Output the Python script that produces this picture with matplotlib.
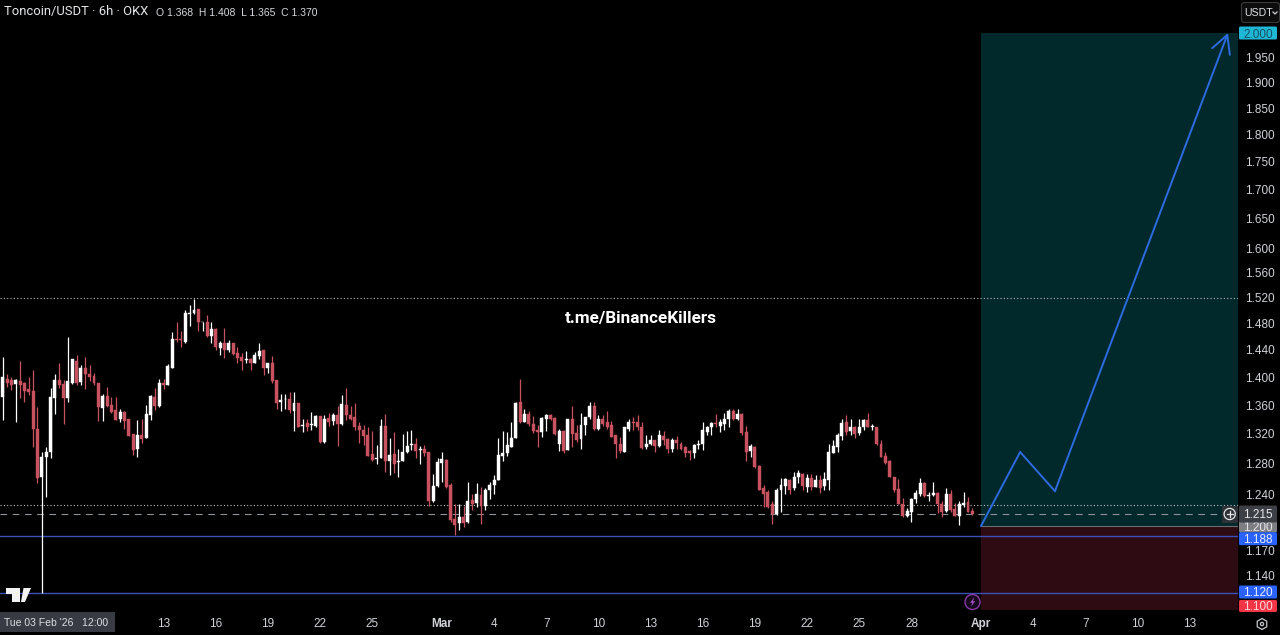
import matplotlib
matplotlib.use("Agg")
import matplotlib.pyplot as plt
from matplotlib.patches import Rectangle, Circle, Polygon, RegularPolygon, FancyBboxPatch
from matplotlib.lines import Line2D

plt.rcParams['font.family'] = ['Liberation Sans', 'DejaVu Sans']

highs = [
 1.430,1.405,1.400,1.397,1.424,1.393,1.400,1.411,1.357,1.295,
 1.302,1.384,1.405,1.420,1.396,1.459,1.426,1.433,1.418,1.430,
 1.418,1.406,1.392,1.376,1.386,1.372,1.371,1.355,1.352,1.341,
 1.320,1.339,1.341,1.360,1.374,1.385,1.397,1.397,1.419,1.467,
 1.483,1.468,1.501,1.509,1.518,1.502,1.483,1.493,1.483,1.473,
 1.454,1.473,1.455,1.451,1.444,1.436,1.438,1.428,1.437,1.450,
 1.440,1.421,1.431,1.396,1.376,1.376,1.379,1.379,1.363,1.341,
 1.341,1.350,1.346,1.345,1.346,1.349,1.349,1.359,1.374,1.384,
 1.359,1.363,1.337,1.332,1.330,1.324,1.305,1.341,1.347,1.314,
 1.323,1.300,1.320,1.324,1.325,1.314,1.303,1.305,1.296,1.267,
 1.288,1.295,1.286,1.254,1.227,1.227,1.225,1.256,1.240,1.254,
 1.249,1.248,1.256,1.265,1.315,1.324,1.323,1.337,1.365,1.398,
 1.355,1.352,1.345,1.332,1.344,1.347,1.347,1.343,1.327,1.325,
 1.341,1.359,1.332,1.349,1.344,1.365,1.365,1.346,1.346,1.352,
 1.338,1.318,1.316,1.330,1.341,1.343,1.346,1.337,1.318,1.318,
 1.312,1.325,1.324,1.314,1.314,1.317,1.309,1.303,1.298,1.307,
 1.312,1.336,1.331,1.337,1.347,1.341,1.349,1.354,1.355,1.355,
 1.349,1.331,1.307,1.303,1.278,1.252,1.245,1.231,1.248,1.261,
 1.261,1.260,1.269,1.272,1.268,1.267,1.266,1.265,1.265,1.269,
 1.307,1.312,1.321,1.341,1.346,1.341,1.331,1.340,1.341,1.349,
 1.334,1.330,1.312,1.296,1.285,1.263,1.260,1.235,1.222,1.235,
 1.246,1.261,1.256,1.243,1.256,1.243,1.231,1.248,1.246,1.229,
 1.231,1.243,1.237,1.223]

lows = [
 1.339,1.386,1.381,1.337,1.370,1.365,1.375,1.302,1.255,1.120,
 1.237,1.288,1.348,1.385,1.334,1.365,1.390,1.388,1.388,1.383,
 1.395,1.389,1.338,1.338,1.357,1.349,1.339,1.337,1.327,1.317,
 1.291,1.289,1.308,1.314,1.339,1.353,1.357,1.383,1.388,1.414,
 1.452,1.445,1.451,1.477,1.495,1.469,1.468,1.460,1.451,1.440,
 1.433,1.428,1.437,1.433,1.421,1.410,1.420,1.410,1.420,1.426,
 1.403,1.406,1.391,1.354,1.352,1.354,1.349,1.324,1.329,1.323,
 1.324,1.326,1.330,1.308,1.308,1.331,1.332,1.303,1.332,1.339,
 1.339,1.326,1.308,1.305,1.290,1.284,1.280,1.287,1.269,1.265,
 1.268,1.263,1.283,1.294,1.298,1.287,1.280,1.290,1.225,1.230,
 1.249,1.256,1.248,1.205,1.189,1.195,1.199,1.204,1.220,1.224,
 1.203,1.220,1.234,1.240,1.258,1.283,1.290,1.302,1.314,1.335,
 1.336,1.331,1.321,1.302,1.316,1.324,1.339,1.318,1.297,1.294,
 1.298,1.302,1.309,1.300,1.318,1.341,1.326,1.326,1.331,1.327,
 1.316,1.288,1.294,1.296,1.324,1.325,1.326,1.300,1.300,1.305,
 1.296,1.302,1.305,1.294,1.296,1.299,1.298,1.289,1.285,1.287,
 1.299,1.298,1.318,1.318,1.330,1.323,1.326,1.329,1.339,1.339,
 1.318,1.284,1.289,1.274,1.245,1.224,1.223,1.203,1.214,1.217,
 1.240,1.240,1.246,1.254,1.246,1.243,1.246,1.250,1.242,1.246,
 1.246,1.294,1.296,1.312,1.318,1.318,1.314,1.318,1.325,1.329,
 1.326,1.305,1.289,1.280,1.262,1.243,1.227,1.211,1.211,1.205,
 1.229,1.238,1.237,1.232,1.238,1.216,1.211,1.217,1.218,1.212,
 1.201,1.224,1.217,1.214]

body_tops = [
 1.400,1.398,1.396,1.396,1.394,1.391,1.383,1.380,1.327,1.289,
 1.295,1.371,1.396,1.396,1.390,1.394,1.426,1.424,1.413,1.413,
 1.405,1.402,1.392,1.373,1.373,1.360,1.353,1.350,1.351,1.340,
 1.320,1.318,1.318,1.347,1.373,1.372,1.392,1.391,1.416,1.457,
 1.457,1.457,1.497,1.497,1.501,1.502,1.483,1.483,1.472,1.472,
 1.450,1.450,1.450,1.451,1.435,1.430,1.426,1.427,1.433,1.438,
 1.440,1.421,1.421,1.396,1.367,1.369,1.369,1.363,1.363,1.332,
 1.335,1.334,1.345,1.345,1.341,1.342,1.346,1.346,1.362,1.360,
 1.346,1.343,1.331,1.326,1.318,1.293,1.288,1.331,1.331,1.291,
 1.293,1.283,1.295,1.303,1.306,1.306,1.300,1.299,1.295,1.251,
 1.282,1.286,1.285,1.252,1.209,1.211,1.211,1.231,1.233,1.240,
 1.239,1.246,1.252,1.259,1.291,1.294,1.305,1.315,1.363,1.364,
 1.348,1.347,1.334,1.325,1.342,1.346,1.346,1.342,1.324,1.324,
 1.341,1.341,1.321,1.332,1.344,1.359,1.359,1.340,1.341,1.337,
 1.332,1.318,1.307,1.329,1.337,1.337,1.337,1.329,1.307,1.312,
 1.312,1.318,1.317,1.313,1.312,1.312,1.307,1.302,1.297,1.305,
 1.307,1.325,1.330,1.335,1.335,1.337,1.341,1.352,1.352,1.347,
 1.347,1.323,1.303,1.302,1.277,1.248,1.243,1.227,1.246,1.252,
 1.260,1.259,1.262,1.268,1.267,1.261,1.261,1.258,1.258,1.260,
 1.296,1.303,1.319,1.335,1.337,1.330,1.330,1.330,1.339,1.339,
 1.331,1.330,1.307,1.290,1.284,1.263,1.247,1.228,1.219,1.234,
 1.242,1.254,1.254,1.239,1.242,1.242,1.227,1.240,1.240,1.221,
 1.227,1.229,1.230,1.219]

body_bottoms = [
 1.371,1.392,1.389,1.390,1.389,1.380,1.378,1.327,1.261,1.262,
 1.289,1.295,1.370,1.389,1.370,1.370,1.392,1.392,1.393,1.405,
 1.400,1.391,1.357,1.356,1.359,1.351,1.339,1.340,1.338,1.317,
 1.298,1.299,1.313,1.314,1.346,1.359,1.359,1.389,1.389,1.414,
 1.455,1.455,1.452,1.495,1.496,1.482,1.482,1.461,1.461,1.445,
 1.443,1.440,1.440,1.434,1.428,1.424,1.425,1.421,1.421,1.431,
 1.413,1.413,1.395,1.363,1.365,1.368,1.353,1.352,1.330,1.331,
 1.329,1.333,1.331,1.309,1.309,1.337,1.338,1.334,1.334,1.346,
 1.341,1.329,1.325,1.317,1.290,1.285,1.286,1.287,1.284,1.284,
 1.280,1.282,1.283,1.295,1.305,1.297,1.298,1.294,1.231,1.231,
 1.251,1.281,1.249,1.207,1.201,1.204,1.204,1.205,1.228,1.229,
 1.225,1.225,1.245,1.252,1.259,1.290,1.294,1.302,1.315,1.337,
 1.337,1.334,1.324,1.323,1.323,1.340,1.341,1.320,1.307,1.297,
 1.298,1.320,1.312,1.313,1.332,1.344,1.327,1.327,1.334,1.330,
 1.316,1.306,1.297,1.296,1.327,1.335,1.329,1.301,1.302,1.307,
 1.303,1.303,1.312,1.299,1.299,1.308,1.300,1.294,1.294,1.294,
 1.305,1.307,1.323,1.329,1.334,1.331,1.334,1.341,1.340,1.340,
 1.321,1.296,1.297,1.276,1.246,1.240,1.224,1.215,1.215,1.246,
 1.251,1.246,1.248,1.262,1.251,1.250,1.250,1.250,1.248,1.251,
 1.259,1.294,1.302,1.317,1.323,1.324,1.320,1.321,1.329,1.330,
 1.329,1.307,1.289,1.281,1.262,1.246,1.228,1.213,1.213,1.218,
 1.234,1.240,1.238,1.238,1.239,1.228,1.218,1.219,1.220,1.213,
 1.213,1.226,1.217,1.215]

# W = close above open (white), R = close below open (red)
directions = ("WRRWRRRRRW" "WWWRRWWRWR" "RRRWRRRWRR" "RWRWWRWRWW" "RRWWWRWRWR"
              "WRWRRRWRWW" "RWRRWWRWRW" "RWWRWRWRWR" "RRRRRRWWRW" "RWWWWRWRRW"
              "WWRRRWRWRW" "RWWWWWWWWR" "WRRRWWRRWR" "WRRWWWRWRR" "RRRWWRRRWW"
              "RWRRWRRRRW" "WWWWRWWWRW" "RRWRRRRRWW" "WRWWRWRWRW" "WWWWRWRWWR"
              "WRRRRRRRWW" "WWRWWRRWRR" "WWRR")

time_tick_bars = [37, 49, 61, 73, 85, 101, 113, 125, 137, 149, 161, 173, 185, 197, 209,
                  225, 237, 249, 261, 273]
time_tick_labels = ["13", "16", "19", "22", "25", "Mar", "4", "7", "10", "13", "16", "19",
                    "22", "25", "28", "Apr", "4", "7", "10", "13"]

price_ticks = [1.95, 1.90, 1.85, 1.80, 1.75, 1.70, 1.65, 1.60, 1.56, 1.52, 1.48, 1.44,
               1.40, 1.36, 1.32, 1.28, 1.24, 1.17, 1.14]

entry_price, target_price, stop_price = 1.200, 2.000, 1.100
support_1, support_2 = 1.188, 1.120
resistance_dotted, upper_dotted, last_price = 1.520, 1.226, 1.215
entry_bar = 225
path_bars = [225, 234, 242, 281.8]
path_prices = [1.200, 1.2955, 1.244, 2.000]

W, H, DPI = 1280, 635, 100
BG = "#000000"
RED = "#c95260"
WHITE = "#ffffff"
TXT = "#d0d2d8"
LINE_BLUE = "#3d4fb8"
TICK_FONT = 8.5

fig = plt.figure(figsize=(W / DPI, H / DPI), dpi=DPI, facecolor=BG)
ax = fig.add_axes([0, (H - 612) / H, 1238 / W, 612 / H], facecolor=BG)
ax.set_yscale("log")
ax.set_ylim(1.0976, 2.0696)
ax.set_xlim(-0.62, 284.1)
for s in ax.spines.values():
    s.set_visible(False)

# position boxes
xmax = ax.get_xlim()[1]
ax.add_patch(Rectangle((entry_bar, entry_price), xmax - entry_bar, target_price - entry_price,
                       facecolor="#01282b", edgecolor="none", zorder=1))
ax.add_patch(Rectangle((entry_bar, stop_price), xmax - entry_bar, entry_price - stop_price,
                       facecolor="#2e0b12", edgecolor="none", zorder=1))

# horizontal levels
ax.axhline(resistance_dotted, color="#b9bcc2", lw=0.8, ls=(0, (1, 2)), zorder=2)
ax.axhline(upper_dotted, color="#c4c6cc", lw=0.8, ls=(0, (1, 2)), zorder=2)
ax.axhline(last_price, color="#8f9298", lw=0.8, ls=(0, (6, 5)), zorder=2)
ax.axhline(support_1, color=LINE_BLUE, lw=1.0, zorder=2)
ax.axhline(support_2, color=LINE_BLUE, lw=1.0, zorder=2)
ax.plot([entry_bar, xmax], [entry_price, entry_price], color="#6a6d72", lw=0.8, zorder=2)

# candles
xs = list(range(len(highs)))
colors = [WHITE if d == "W" else RED for d in directions]
ax.vlines(xs, lows, highs, colors=colors, lw=0.9, zorder=3)
ax.bar(xs, [t - b for t, b in zip(body_tops, body_bottoms)], bottom=body_bottoms, width=0.68,
       color=colors, edgecolor=colors, linewidth=0.3, zorder=4)

# projected path
arrow_blue = "#2c6be0"
ax.plot(path_bars[:-1], path_prices[:-1], color=arrow_blue, lw=1.4, zorder=5,
        solid_joinstyle="miter")
ax.annotate("", xy=(path_bars[-1], path_prices[-1]), xytext=(path_bars[-2], path_prices[-2]),
            arrowprops=dict(arrowstyle="->,head_length=0.75,head_width=0.4", color=arrow_blue,
                            lw=1.4, shrinkA=0, shrinkB=0, mutation_scale=17), zorder=5)

# axes ticks
ax.yaxis.tick_right()
ax.set_yticks(price_ticks, [f"{p:.3f}" for p in price_ticks])
ax.minorticks_off()
ax.tick_params(axis="y", length=0, pad=5.0, labelsize=TICK_FONT, labelcolor=TXT)
ax.set_xticks(time_tick_bars, time_tick_labels)
ax.tick_params(axis="x", length=0, pad=4.5, labelsize=TICK_FONT, labelcolor=TXT)
for lab in ax.get_xticklabels():
    if lab.get_text() in ("Mar", "Apr"):
        lab.set_fontweight("bold")


def fx(x):
    return x / W


def fy(y):
    return 1 - y / H


def px_rect(x0, y0, x1, y1, color, z=10, radius=1.5):
    fig.add_artist(FancyBboxPatch((x0 + radius, H - y1 + radius), x1 - x0 - 2 * radius, y1 - y0 - 2 * radius,
                                  boxstyle=f"round,pad={radius},rounding_size={radius}",
                                  transform=None, facecolor=color, edgecolor="none", zorder=z))


def tag(price, color, txt_color, cy, height=13, z=10):
    px_rect(1239, cy - height / 2, 1277, cy + height / 2, color, z=z)
    fig.text(fx(1258), fy(cy), f"{price:.3f}", color=txt_color, fontsize=TICK_FONT, ha="center",
             va="center_baseline", zorder=z + 0.5)


tag(target_price, "#1fb7d6", "#16505e", 33, height=13)
tag(entry_price, "#7d7f84", "#e6e6e8", 526.5, height=12, z=10)
tag(last_price, "#3c3f46", "#e8e8ea", 514, height=17, z=11)
tag(support_1, "#2962ff", "#e8ecff", 538.7, height=13, z=12)
tag(support_2, "#2962ff", "#e8ecff", 592, height=13, z=10)
tag(stop_price, "#f23645", "#ffd9dc", 606, height=12, z=10)

# header text
fig.text(fx(4), fy(12), "Toncoin/USDT · 6h · OKX", color="#e6e7ea", fontsize=9.4,
         family=["Roboto", "DejaVu Sans"], va="center")
fig.text(fx(156), fy(12.5), "O 1.368  H 1.408  L 1.365  C 1.370", color="#d6d8de",
         fontsize=7.5, va="center")

# watermark
fig.text(fx(640.5), fy(318), "t.me/BinanceKillers", color="#ffffff", fontsize=12.3,
         fontweight="bold", family=["Roboto", "DejaVu Sans"], ha="center", va="center", zorder=12)

# date label
fig.add_artist(Rectangle((0, H - 632), 115, 20, transform=None, facecolor="#383b43",
                         edgecolor="none", zorder=10))
fig.text(fx(4), fy(623.5), "Tue 03 Feb '26   12:00", color="#dcdee2", fontsize=7.5, va="center", zorder=11)

# USDT button
fig.add_artist(FancyBboxPatch((1244, H - 20), 33, 15, boxstyle="round,pad=2.5,rounding_size=3",
                              transform=None, facecolor="#0c0c0c", edgecolor="#3a3a3a", lw=0.8, zorder=10))
fig.text(fx(1244.5), fy(12.5), "USDT", color="#dfe1e6", fontsize=7.6, va="center", zorder=11)
fig.add_artist(Line2D([1273, 1275, 1277], [H - 12, H - 14, H - 12], transform=None, color="#cfd1d6", lw=0.9, zorder=11))

# plus button
fig.add_artist(Rectangle((1222, H - 523), 16, 17, transform=None, facecolor="#2c3136",
                         edgecolor="none", zorder=9))
fig.add_artist(Circle((1229.7, H - 514), 5.6, transform=None, facecolor="none", edgecolor="#e6e6e6", lw=0.9, zorder=10))
fig.add_artist(Line2D([1226.7, 1232.7], [H - 514, H - 514], transform=None, color="#e6e6e6", lw=0.9, zorder=10))
fig.add_artist(Line2D([1229.7, 1229.7], [H - 517, H - 511], transform=None, color="#e6e6e6", lw=0.9, zorder=10))

# lightning badge
fig.add_artist(Circle((972.5, H - 602), 7.5, transform=None, facecolor="#16091d", edgecolor="#8b3aa8", lw=1.0, zorder=9))
fig.add_artist(Polygon([(974.5, H - 597), (970, H - 602.8), (972.4, H - 602.8), (970.8, H - 607),
                        (975.2, H - 601.2), (972.8, H - 601.2)], closed=True, transform=None,
                       facecolor="#a64bc6", edgecolor="none", zorder=10))

# chart-logo
logo = "#f2f2f2"
fig.add_artist(Polygon([(6, H - 588), (19.5, H - 588), (19.5, H - 602), (12, H - 602), (12, H - 594), (6, H - 594)],
                       closed=True, transform=None, facecolor=logo, edgecolor="none", zorder=9))
fig.add_artist(Polygon([(23.5, H - 588), (31, H - 588), (25, H - 602), (21, H - 602)], closed=True, transform=None,
                       facecolor=logo, edgecolor="none", zorder=9))

# settings hexagon
fig.add_artist(RegularPolygon((1262, H - 624), 6, radius=5.5, transform=None, facecolor="none", edgecolor="#c6c8cc", lw=0.9, zorder=9))
fig.add_artist(Circle((1262, H - 624), 1.6, transform=None, facecolor="none", edgecolor="#c6c8cc", lw=0.9, zorder=9))

fig.savefig("out.png", dpi=DPI, facecolor=BG)
